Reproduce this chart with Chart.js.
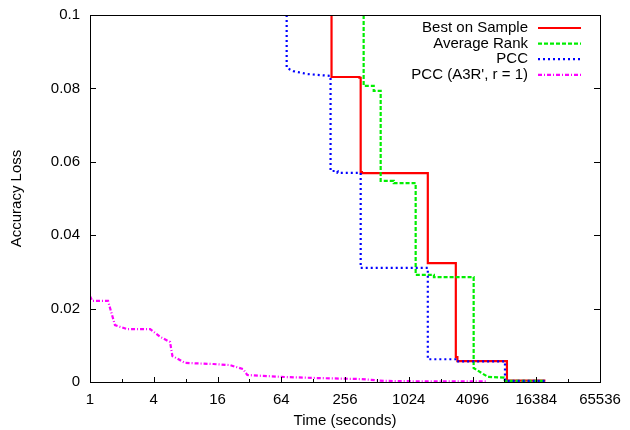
<!DOCTYPE html>
<html>
<head>
<meta charset="utf-8">
<script src="https://cdn.jsdelivr.net/npm/chart.js@4/dist/chart.umd.min.js"></script>
<style>
  body { margin: 0; background: #fff; }
</style>
</head>
<body>
<canvas id="chart" width="630" height="430"></canvas>
<script>
// series labels
const seriesLabels = ['Best on Sample', 'Average Rank', 'PCC', "PCC (A3R', r = 1)"];

// Best on Sample (time in seconds, accuracy loss)
const bestTimes = [191, 191, 350, 350, 360, 360, 370, 370, 1550, 1550, 2850, 2850, 2950, 2950, 8660, 8660, 20000];
const bestLoss = [0.1, 0.0831, 0.0831, 0.0829, 0.0829, 0.0572, 0.0572, 0.0569, 0.0569, 0.0324, 0.0324, 0.0068, 0.0068, 0.0057, 0.0057, 0.0004, 0.0004];

// Average Rank
const rankTimes = [384, 384, 478, 478, 556, 556, 739, 739, 1190, 1190, 1770, 1770, 4200, 4200, 5720, 8130, 8300, 20000];
const rankLoss = [0.1, 0.0807, 0.0807, 0.0793, 0.0793, 0.0548, 0.0548, 0.0542, 0.0542, 0.0292, 0.0292, 0.0286, 0.0286, 0.0038, 0.0014, 0.0012, 0.0003, 0.0003];

// PCC
const pccTimes = [72, 72, 83, 113, 187, 187, 218, 218, 360, 360, 1550, 1550, 2900, 2900, 8300, 8300, 20300];
const pccLoss = [0.1, 0.0856, 0.0847, 0.0839, 0.0834, 0.0575, 0.0575, 0.057, 0.057, 0.0311, 0.0311, 0.0062, 0.0062, 0.0056, 0.0056, 0.0003, 0.0003];

// PCC (A3R', r = 1)
const a3rTimes = [1, 1.05, 1.48, 1.72, 2.24, 3.7, 4.6, 5.7, 6.0, 7.9, 14.6, 21, 28, 30.6, 62.8, 129, 360, 594, 1190, 5700];
const a3rLoss = [0.0234, 0.0221, 0.0221, 0.0155, 0.0144, 0.0144, 0.0123, 0.0109, 0.0071, 0.0052, 0.0049, 0.0046, 0.0035, 0.0019, 0.0014, 0.0011, 0.0008, 0.0003, 0.0002, 0.0002];

// axis ticks
const xTicks = [1, 2, 4, 8, 16, 32, 64, 128, 256, 512, 1024, 2048, 4096, 8192, 16384, 32768, 65536];
const xTickLabels = [1, 4, 16, 64, 256, 1024, 4096, 16384, 65536];
const yTicks = [0, 0.02, 0.04, 0.06, 0.08, 0.1];
const yTickLabels = ['0', '0.02', '0.04', '0.06', '0.08', '0.1'];

function toPoints(xs, ys) {
    return xs.map((x, i) => ({ x: x, y: ys[i] }));
}

const font = "'Liberation Sans', Arial, sans-serif";

// frame with inward ticks, like gnuplot
const framePlugin = {
    id: 'frame',
    afterDatasetsDraw(chart) {
        const { ctx, chartArea: a, scales } = chart;
        ctx.save();
        ctx.strokeStyle = '#000';
        ctx.lineWidth = 1;
        ctx.strokeRect(a.left + 0.5, a.top + 0.5, a.right - a.left, a.bottom - a.top);
        ctx.beginPath();
        yTicks.forEach(v => {
            const py = Math.round(scales.y.getPixelForValue(v)) + 0.5;
            ctx.moveTo(a.left, py); ctx.lineTo(a.left + 6, py);
            ctx.moveTo(a.right, py); ctx.lineTo(a.right - 6, py);
        });
        xTicks.forEach(v => {
            const px = Math.round(scales.x.getPixelForValue(v)) + 0.5;
            const len = xTickLabels.includes(v) ? 5 : 3;
            ctx.moveTo(px, a.bottom); ctx.lineTo(px, a.bottom - len);
        });
        ctx.stroke();
        ctx.restore();
    }
};

// legend inside the plot, text right-aligned with sample line on the right
const legendPlugin = {
    id: 'insideLegend',
    afterDraw(chart) {
        const ctx = chart.ctx;
        ctx.save();
        ctx.font = '15px ' + font;
        ctx.textAlign = 'right';
        ctx.textBaseline = 'middle';
        chart.data.datasets.forEach((ds, i) => {
            const y = 28 + i * 15.6;
            ctx.fillStyle = '#000';
            ctx.fillText(ds.label, 528, y);
            ctx.strokeStyle = ds.borderColor;
            ctx.lineWidth = ds.borderWidth;
            ctx.setLineDash(ds.borderDash || []);
            ctx.beginPath();
            ctx.moveTo(538, y);
            ctx.lineTo(581, y);
            ctx.stroke();
        });
        ctx.restore();
    }
};

const ctx = document.getElementById('chart').getContext('2d');

const chart = new Chart(ctx, {
    type: 'scatter',
    data: {
        datasets: [
            {
                label: seriesLabels[0],
                data: toPoints(bestTimes, bestLoss),
                borderColor: '#ff0000',
                borderWidth: 2.2,
                borderDash: [],
                order: 4
            },
            {
                label: seriesLabels[1],
                data: toPoints(rankTimes, rankLoss),
                borderColor: '#00ee00',
                borderWidth: 2.2,
                borderDash: [4, 2],
                order: 3
            },
            {
                label: seriesLabels[2],
                data: toPoints(pccTimes, pccLoss),
                borderColor: '#0000ff',
                borderWidth: 2.2,
                borderDash: [2, 3],
                order: 2
            },
            {
                label: seriesLabels[3],
                data: toPoints(a3rTimes, a3rLoss),
                borderColor: '#ff00ff',
                borderWidth: 2.2,
                borderDash: [4, 2, 1, 2],
                order: 1
            }
        ]
    },
    options: {
        responsive: false,
        animation: false,
        showLine: true,
        elements: {
            point: { radius: 0, hoverRadius: 0 },
            line: { tension: 0, fill: false, borderCapStyle: 'butt' }
        },
        layout: { padding: { top: 15, right: 30, left: 0, bottom: 0 } },
        plugins: {
            legend: { display: false },
            tooltip: { enabled: false }
        },
        scales: {
            x: {
                type: 'logarithmic',
                min: 1,
                max: 65536,
                grid: { display: false, drawTicks: false },
                border: { display: false },
                afterBuildTicks: scale => {
                    scale.ticks = xTicks.map(v => ({ value: v }));
                },
                afterFit: scale => {
                    scale.height = 48;
                    scale.paddingLeft = 0;
                    scale.paddingRight = 0;
                },
                ticks: {
                    autoSkip: false,
                    maxRotation: 0,
                    padding: 9,
                    color: '#000',
                    font: { family: font, size: 15 },
                    callback: value => xTickLabels.includes(value) ? String(value) : ''
                },
                title: {
                    display: true,
                    text: 'Time (seconds)',
                    color: '#000',
                    padding: 0,
                    font: { family: font, size: 15 }
                }
            },
            y: {
                type: 'linear',
                min: 0,
                max: 0.1,
                grid: { display: false, drawTicks: false },
                border: { display: false },
                afterBuildTicks: scale => {
                    scale.ticks = yTicks.map(v => ({ value: v }));
                },
                afterFit: scale => {
                    scale.width = 90;
                    scale.paddingTop = 0;
                    scale.paddingBottom = 0;
                },
                ticks: {
                    padding: 10,
                    color: '#000',
                    font: { family: font, size: 15 },
                    callback: (value, index) => yTickLabels[index]
                },
                title: {
                    display: true,
                    text: 'Accuracy Loss',
                    color: '#000',
                    padding: { top: 8, bottom: 0 },
                    font: { family: font, size: 15 }
                }
            }
        }
    },
    plugins: [framePlugin, legendPlugin]
});
</script>
</body>
</html>
